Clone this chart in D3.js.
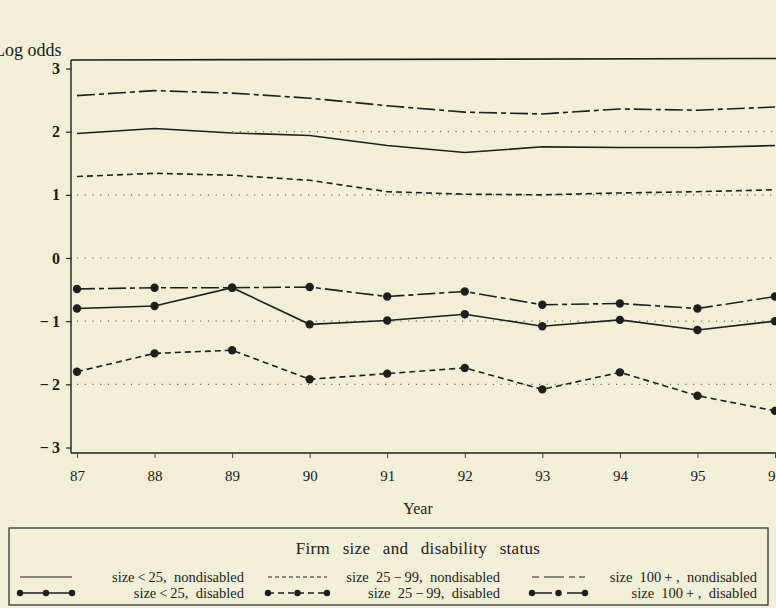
<!DOCTYPE html>
<html><head><meta charset="utf-8">
<script src="https://cdn.jsdelivr.net/npm/d3@7"></script>
<style>
html,body{margin:0;padding:0;background:#f2efd9;overflow:hidden;}
svg{display:block;}
text{font-family:"Liberation Serif","DejaVu Serif",serif;fill:#1a1a1a;}
</style></head>
<body>
<svg id="chart" width="776" height="608"></svg>
<script>
const years = [87, 88, 89, 90, 91, 92, 93, 94, 95, 96];
const yTicks = [-3, -2, -1, 0, 1, 2, 3];
const gridLevels = [2, 1, 0, -1, -2];
const small_nondisabled = [1.97, 2.05, 1.98, 1.94, 1.78, 1.67, 1.76, 1.75, 1.75, 1.78];
const mid_nondisabled   = [1.29, 1.34, 1.31, 1.23, 1.05, 1.01, 1.00, 1.03, 1.05, 1.08];
const large_nondisabled = [2.57, 2.65, 2.61, 2.53, 2.41, 2.31, 2.28, 2.36, 2.34, 2.39];
const small_disabled    = [-0.80, -0.76, -0.47, -1.05, -0.99, -0.89, -1.08, -0.98, -1.14, -1.00];
const mid_disabled      = [-1.80, -1.51, -1.46, -1.92, -1.83, -1.74, -2.08, -1.81, -2.18, -2.42];
const large_disabled    = [-0.49, -0.47, -0.47, -0.46, -0.61, -0.53, -0.74, -0.72, -0.80, -0.61];
const legendLabels = ["size\u2009<\u200925,  nondisabled", "size\u2009<\u200925,  disabled",
  "size  25\u2009\u2212\u200999,  nondisabled", "size  25\u2009\u2212\u200999,  disabled",
  "size  100\u2009+ ,  nondisabled", "size  100\u2009+ ,  disabled"];

const ink = "#1e1e1e";
const serif = "'Liberation Serif','DejaVu Serif',serif";
const svg = d3.select("#chart");
const x = d3.scaleLinear().domain([87, 96]).range([77, 775]);
const y = d3.scaleLinear().domain([-3, 3]).range([447.5, 68.5]);
const pLeft = 71, pTop = 60, pBottom = 453, pRight = 790;

// dotted reference lines
svg.append("g").selectAll("line").data(gridLevels).join("line")
  .attr("x1", d => d === 2 ? x(89) : x(87)).attr("x2", pRight)
  .attr("y1", d => y(d)).attr("y2", d => y(d))
  .attr("stroke", "#666").attr("stroke-width", 1.1)
  .attr("stroke-dasharray", "1.2,6.5");

// frame top
svg.append("line").attr("x1", pLeft).attr("x2", pRight).attr("y1", pTop).attr("y2", pTop - 1.5)
  .attr("stroke", ink).attr("stroke-width", 1.6);

// y axis
const yAxis = svg.append("g").attr("transform", `translate(${pLeft},0)`)
  .call(d3.axisLeft(y).tickValues(yTicks).tickSize(5).tickPadding(6)
    .tickFormat(d => d < 0 ? "\u2212\u2009" + Math.abs(d) : String(d)));
yAxis.attr("font-family", serif);
yAxis.select(".domain").attr("d", `M0,${pTop}V${pBottom}`).attr("stroke", ink).attr("stroke-width", 1.4);
yAxis.selectAll(".tick line").attr("stroke", ink).attr("stroke-width", 1.2);
yAxis.selectAll(".tick text").style("font-size", "16px").style("font-weight", "bold")
  .style("font-family", serif).attr("fill", ink);

// x axis
const xAxis = svg.append("g").attr("transform", `translate(0,${pBottom})`)
  .call(d3.axisBottom(x).tickValues(years).tickSize(5).tickPadding(12).tickFormat(d3.format("d")));
xAxis.attr("font-family", serif);
xAxis.select(".domain").attr("d", `M${pLeft},0H${pRight}`).attr("stroke", ink).attr("stroke-width", 1.6);
xAxis.selectAll(".tick line").attr("stroke", "#444").attr("stroke-width", 1);
xAxis.selectAll(".tick text").style("font-size", "15px")
  .style("font-family", serif).attr("fill", ink);

svg.append("text").attr("x", -6).attr("y", 56).style("font-size", "18px").text("Log odds");
svg.append("text").attr("x", 418).attr("y", 514).attr("text-anchor", "middle")
  .style("font-size", "16px").text("Year");

const line = d3.line().x((d, i) => x(years[i])).y(d => y(d));
const dashSolid = null, dashDash = "6,4", dashDot = "18,4,5,4";
const series = [
  {v: small_nondisabled, dash: dashSolid, m: false},
  {v: mid_nondisabled, dash: dashDash, m: false},
  {v: large_nondisabled, dash: dashDot, m: false},
  {v: small_disabled, dash: dashSolid, m: true},
  {v: mid_disabled, dash: dashDash, m: true},
  {v: large_disabled, dash: dashDot, m: true}
];
series.forEach(s => {
  svg.append("path").datum(s.v).attr("d", line).attr("fill", "none")
    .attr("stroke", ink).attr("stroke-width", 1.6)
    .attr("stroke-dasharray", s.dash);
  if (s.m) {
    svg.append("g").selectAll("circle").data(s.v).join("circle")
      .attr("cx", (d, i) => x(years[i])).attr("cy", d => y(d)).attr("r", 4.2).attr("fill", ink);
  }
});

// legend
const lg = svg.append("g");
lg.append("rect").attr("x", 9).attr("y", 528).attr("width", 759).attr("height", 77)
  .attr("fill", "none").attr("stroke", "#333").attr("stroke-width", 1.3);
lg.append("text").attr("x", 418).attr("y", 554).attr("text-anchor", "middle")
  .style("font-size", "17px").style("word-spacing", "8px").style("letter-spacing", "0.3px")
  .text("Firm size and disability status");
const cols = [
  {sx: [20, 72], tx: 244, dash: dashSolid},
  {sx: [268, 327], tx: 500, dash: dashDash},
  {sx: [532, 585], tx: 757, dash: dashDot}
];
const rowsY = [577, 593];
cols.forEach((c, ci) => {
  [0, 1].forEach(r => {
    const yy = rowsY[r];
    let dash = c.dash;
    if (r === 1 && ci === 2) dash = "20,5,4,6";
    lg.append("line").attr("x1", c.sx[0]).attr("x2", c.sx[1]).attr("y1", yy).attr("y2", yy)
      .attr("stroke", ink).attr("stroke-width", r === 0 ? 1.1 : 1.6)
      .attr("stroke-dasharray", r === 0 && ci === 1 ? "4,3" : (r === 0 && ci === 2 ? "7,5,20,5,6,4" : dash));
    if (r === 1) {
      const pts = [c.sx[0], (c.sx[0] + c.sx[1]) / 2, c.sx[1]];
      lg.selectAll(null).data(pts).join("circle").attr("cx", d => d).attr("cy", yy).attr("r", 3.2).attr("fill", ink);
    }
    lg.append("text").attr("x", c.tx).attr("y", yy + 5).attr("text-anchor", "end")
      .attr("xml:space", "preserve").style("font-size", "14.5px").text(legendLabels[ci * 2 + r]);
  });
});
</script>
</body></html>
